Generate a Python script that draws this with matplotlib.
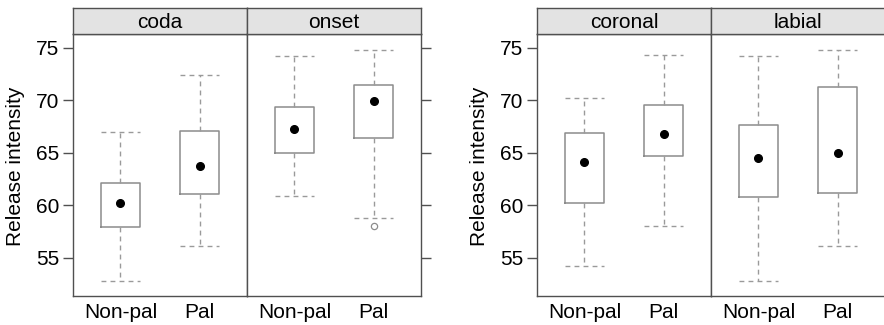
import matplotlib
matplotlib.use("Agg")
import matplotlib.pyplot as plt

plt.rcParams["font.family"] = ["Liberation Sans", "DejaVu Sans"]

categories = ["Non-pal", "Pal"]
ticks = [55, 60, 65, 70, 75]

# per facet: (whisker low, q1, median, q3, whisker high) for Non-pal, Pal
coda = [(52.8, 57.9, 60.2, 62.1, 67.0), (56.1, 61.1, 63.7, 67.05, 72.4)]
onset = [(60.9, 65.0, 67.3, 69.35, 74.2), (58.8, 66.35, 69.9, 71.4, 74.8)]
coronal = [(54.2, 60.2, 64.1, 66.9, 70.2), (58.0, 64.7, 66.8, 69.5, 74.3)]
labial = [(52.8, 60.75, 64.5, 67.6, 74.2), (56.1, 61.2, 65.0, 71.3, 74.8)]

onset_outliers = [[], [58.0]]
no_outliers = [[], []]

panels = [
    ("coda", coda, no_outliers),
    ("onset", onset, onset_outliers),
    ("coronal", coronal, no_outliers),
    ("labial", labial, no_outliers),
]

W, H = 884, 325
fig = plt.figure(figsize=(W / 100, H / 100), dpi=100)

frame_col = "#505050"
box_col = "#8c8c8c"
whisk_col = "#9a9a9a"
fs = 15

lefts = [73, 247, 537, 711]
pw = 174
top, bottom = 34, 296


def draw_panel(ax, stats_in, outliers):
    stats = []
    for (lo, q1, med, q3, hi), fl in zip(stats_in, outliers):
        stats.append(dict(whislo=lo, q1=q1, med=med, q3=q3, whishi=hi, fliers=fl))
    ax.bxp(stats, positions=[1, 2], widths=0.5, capwidths=0.5,
           boxprops=dict(color=box_col, lw=1.1),
           whiskerprops=dict(color=whisk_col, lw=1.0, ls=(0, (3.5, 3))),
           capprops=dict(color=whisk_col, lw=1.0, ls=(0, (3.5, 3))),
           medianprops=dict(lw=0),
           flierprops=dict(marker="o", markersize=4.5, markerfacecolor="none",
                           markeredgecolor=box_col, markeredgewidth=0.9))
    ax.plot([1, 2], [s[2] for s in stats_in], "o", color="black", markersize=5.5, zorder=5)
    ax.set_xlim(0.4, 2.6)
    ax.set_ylim(51.35, 76.3)
    ax.set_xticks([1, 2])
    ax.set_xticklabels(categories, fontsize=fs)
    ax.tick_params(axis="x", length=0, pad=5)
    ax.set_yticks(ticks)
    for sp in ax.spines.values():
        sp.set_color(frame_col)
        sp.set_linewidth(1.0)


for i, (name, data, outl) in enumerate(panels):
    x0 = lefts[i] / W
    ax = fig.add_axes([x0, 1 - bottom / H, pw / W, (bottom - top) / H])
    draw_panel(ax, data, outl)
    if i % 2 == 0:
        ax.tick_params(axis="y", left=True, right=False, labelleft=True,
                       length=7, width=1, color=frame_col, labelsize=fs, pad=3)
    else:
        ax.tick_params(axis="y", left=False, right=True, labelleft=False,
                       labelright=False, length=7, width=1, color=frame_col)
    sax = fig.add_axes([x0, 1 - top / H, pw / W, 26 / H])
    sax.set_facecolor("#e3e3e3")
    sax.set_xticks([])
    sax.set_yticks([])
    for sp in sax.spines.values():
        sp.set_color(frame_col)
        sp.set_linewidth(1.0)
    sax.text(0.5, 0.45, name, ha="center", va="center", fontsize=fs,
             transform=sax.transAxes)

fig.text(16 / W, 1 - 166 / H, "Release intensity", rotation=90,
         ha="center", va="center", fontsize=fs)
fig.text(480 / W, 1 - 166 / H, "Release intensity", rotation=90,
         ha="center", va="center", fontsize=fs)

fig.savefig("out.png", dpi=100)
